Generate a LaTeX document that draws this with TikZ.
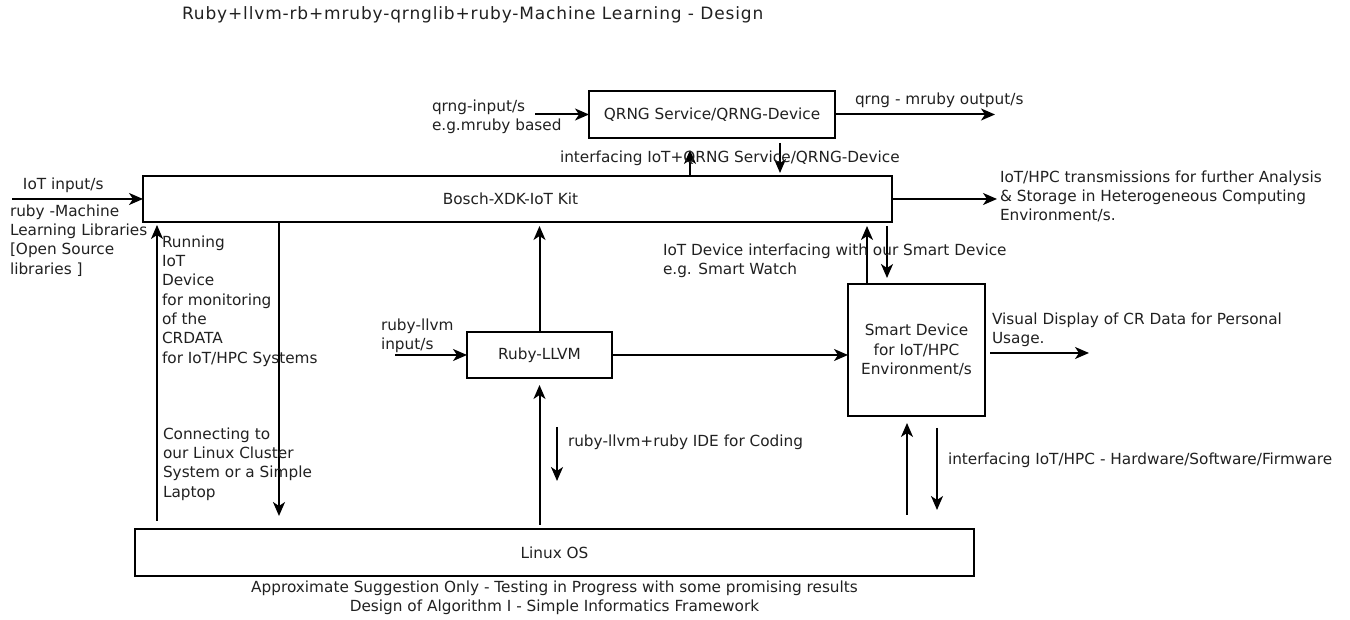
\documentclass[tikz,border=0pt]{standalone}
\usepackage{fontspec}
\setmainfont{DejaVu Sans}
\usetikzlibrary{arrows.meta}
\definecolor{txtColor}{rgb}{0.13,0.13,0.13}

\begin{document}
\begin{tikzpicture}[x=1pt,y=1pt,
  every node/.style={text=txtColor,font=\fontsize{15.3}{19.3}\selectfont},
  box/.style={draw,line width=2pt,inner sep=0pt,outer sep=0pt},
  arr/.style={line width=2pt,-{Stealth[length=14pt,width=12pt,inset=4pt]}},
  lbl/.style={inner sep=0pt,outer sep=0pt,align=left,anchor=west}]
\path[use as bounding box,fill=white] (0,0) rectangle (1350,620);

\node[box,minimum width=246pt,minimum height=47pt] (qrng) at (712,505.5) {QRNG Service/QRNG-Device};
\node[box,minimum width=749pt,minimum height=46pt] (bosch) at (517.5,421) {\hspace*{-14pt}Bosch-XDK-IoT Kit};
\node[box,minimum width=145pt,minimum height=46pt] (ruby) at (539.5,265) {Ruby-LLVM};
\node[box,minimum width=137pt,minimum height=132pt,align=center] (smart) at (916.5,270) {Smart Device\\for IoT/HPC\\Environment/s};
\node[box,minimum width=839pt,minimum height=47pt] (linux) at (554.5,67.5) {Linux OS};

\node[lbl,font=\fontsize{17}{20}\selectfont\addfontfeatures{LetterSpace=5}] (title) at (182,605) {Ruby+llvm-rb+mruby-qrnglib+ruby-Machine Learning - Design};
\node[inner sep=0pt,align=center] (caption) at (554.5,22.5) {Approximate Suggestion Only - Testing in Progress with some promising results\\Design of Algorithm I - Simple Informatics Framework};

% QRNG
\coordinate (qin) at (535,505.5);
\coordinate (qout) at (995,505.5);
\coordinate (qup) at (690,0);
\coordinate (qdown) at (780,0);
\draw[arr] (qin) -- (qrng.west);
\draw[arr] (qrng.east) -- (qout);
\draw[arr,shorten >=12pt] (bosch.north -| qup) -- (qrng.south -| qup);
\draw[arr,shorten <=5pt,shorten >=3pt] (qrng.south -| qdown) -- (bosch.north -| qdown);
\node[lbl] (qinlbl) at (432,503.5) {qrng-input/s\\e.g.mruby based};
\node[lbl] (qoutlbl) at (855,520) {qrng - mruby output/s};
\node[lbl] (ifqlbl) at (560,462) {interfacing IoT+QRNG Service/QRNG-Device};

% Bosch kit
\coordinate (iotin) at (12,421);
\coordinate (outend) at (997,421);
\draw[arr] (iotin) -- (bosch.west);
\draw[arr] (bosch.east) -- (outend);
\node[lbl] (iotlbl) at (23,435) {IoT input/s};
\node[lbl] (mllbl) at (10,379.5) {ruby -Machine\\Learning Libraries\\{[}Open Source\\libraries ]};
\node[lbl] (outlbl) at (1000,423.5) {IoT/HPC transmissions for further Analysis\\\& Storage in Heterogeneous Computing\\Environment/s.};

% left side
\coordinate (lup) at (157,0);
\coordinate (ldown) at (279,0);
\draw[arr,shorten <=8pt,shorten >=3pt] (linux.north -| lup) -- (bosch.south -| lup);
\draw[arr,shorten >=13pt] (bosch.south -| ldown) -- (linux.north -| ldown);
\node[lbl] (runlbl) at (162,319) {Running\\IoT\\Device\\for monitoring\\of the\\CRDATA\\for IoT/HPC Systems};
\node[lbl] (conlbl) at (163,156) {Connecting to\\our Linux Cluster\\System or a Simple\\Laptop};

% Ruby-LLVM
\coordinate (rin) at (395,265);
\coordinate (ideA) at (557,193);
\coordinate (ideB) at (557,139);
\draw[arr] (rin) -- (ruby.west);
\draw[arr,shorten >=4pt] (ruby.north) -- (ruby.north |- bosch.south);
\draw[arr,shorten <=4pt,shorten >=7pt] (linux.north -| ruby.south) -- (ruby.south);
\draw[arr] (ruby.east) -- (ruby.east -| smart.west);
\draw[arr] (ideA) -- (ideB);
\node[lbl] (rinlbl) at (381,284.5) {ruby-llvm\\input/s};
\node[lbl] (idelbl) at (568,178) {ruby-llvm+ruby IDE for Coding};

% smart device
\coordinate (sup) at (867,0);
\coordinate (sdown) at (887,0);
\coordinate (visend) at (1089,267);
\coordinate (lsup) at (907,0);
\coordinate (lsdown) at (937,0);
\draw[arr,shorten >=4pt] (smart.north -| sup) -- (bosch.south -| sup);
\draw[arr,shorten <=4pt,shorten >=6pt] (bosch.south -| sdown) -- (smart.north -| sdown);
\draw[arr,shorten <=5pt] (smart.east |- visend) -- (visend);
\draw[arr,shorten <=14pt,shorten >=7pt] (linux.north -| lsup) -- (smart.south -| lsup);
\draw[arr,shorten <=12pt,shorten >=19pt] (smart.south -| lsdown) -- (linux.north -| lsdown);
\node[lbl] (sdlbl) at (663,359.5) {IoT Device interfacing with our Smart Device\\e.g. Smart Watch};
\node[lbl] (vislbl) at (992,290) {Visual Display of CR Data for Personal\\Usage.};
\node[lbl] (hwlbl) at (948,160) {interfacing IoT/HPC - Hardware/Software/Firmware};
\end{tikzpicture}
\end{document}
